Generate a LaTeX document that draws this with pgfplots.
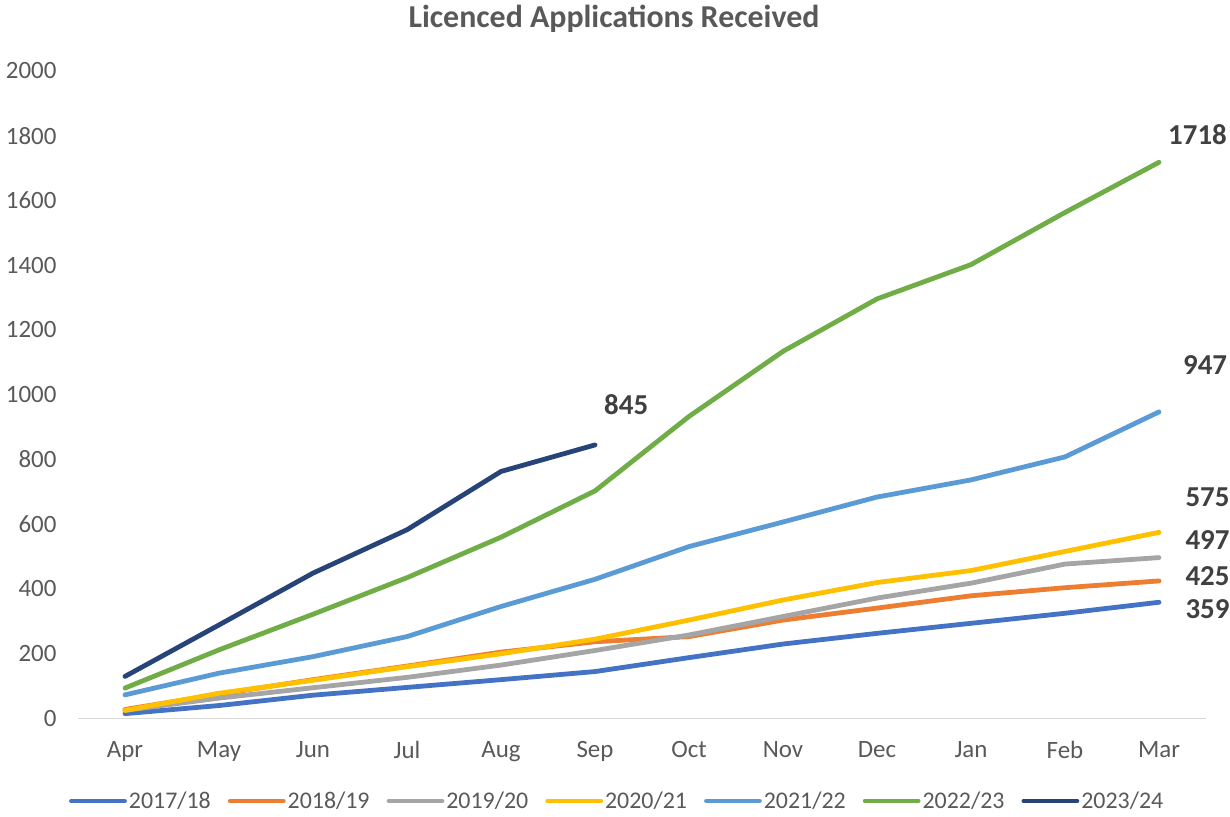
\documentclass[border=0pt]{standalone}
\usepackage{pgfplots}
\pgfplotsset{compat=1.18}
\usepackage{fontspec}
\setmainfont{Carlito}
\definecolor{cA}{HTML}{4472C4}
\definecolor{cB}{HTML}{ED7D31}
\definecolor{cC}{HTML}{A5A5A5}
\definecolor{cD}{HTML}{FFC000}
\definecolor{cE}{HTML}{5B9BD5}
\definecolor{cF}{HTML}{70AD47}
\definecolor{cG}{HTML}{264478}
\definecolor{txt}{HTML}{595959}
\definecolor{lbl}{HTML}{404040}
\definecolor{axl}{HTML}{D9D9D9}
\begin{document}
\begin{tikzpicture}
\begin{axis}[
  scale only axis, width=1128bp, height=647.5bp,
  xmin=-0.5, xmax=11.5, ymin=0, ymax=2000,
  xtick={0,...,11},
  xticklabels={Apr,May,Jun,Jul,Aug,Sep,Oct,Nov,Dec,Jan,Feb,Mar},
  ytick={0,200,...,2000},
  /pgf/number format/1000 sep={},
  axis x line*=bottom, axis y line*=left,
  y axis line style={draw=none},
  x axis line style={draw=axl, line width=1.5bp, -},
  major tick length=0pt,
  tick style={draw=none},
  ticklabel style={font=\fontsize{25}{28}\selectfont, text=txt},
  /pgf/number format/assume math mode=true,
  yticklabel style={xshift=-18bp},
  xticklabel style={yshift=-19bp},
  title={Licenced Applications Received},
  title style={font=\bfseries\fontsize{32}{36}\selectfont, text=txt, anchor=center, at={(0.5,1)}, yshift=46bp, xshift=-28bp},
  legend columns=7,
  legend style={at={(0.478,-0.1274)}, anchor=center, draw=none, fill=none,
    font=\fontsize{24}{27}\selectfont, text=txt,
    /tikz/every even column/.append style={column sep=15bp}},
  legend image code/.code={\draw[#1] (0bp,0bp) -- (53bp,0bp);},
  every axis plot/.append style={line width=4.8bp, line cap=round, line join=round, mark=none},
  clip=false,
]
\addplot[cA] coordinates {(0,15)(1,40)(2,72)(3,96)(4,120)(5,145)(6,188)(7,230)(8,263)(9,294)(10,325)(11,359)};
\addlegendentry{2017/18}
\addplot[cB] coordinates {(0,28)(1,75)(2,120)(3,162)(4,205)(5,237)(6,253)(7,304)(8,341)(9,379)(10,404)(11,425)};
\addlegendentry{2018/19}
\addplot[cC] coordinates {(0,25)(1,63)(2,95)(3,127)(4,165)(5,210)(6,258)(7,315)(8,372)(9,418)(10,477)(11,497)};
\addlegendentry{2019/20}
\addplot[cD] coordinates {(0,25)(1,78)(2,118)(3,160)(4,200)(5,245)(6,304)(7,366)(8,420)(9,457)(10,516)(11,575)};
\addlegendentry{2020/21}
\addplot[cE] coordinates {(0,73)(1,140)(2,191)(3,253)(4,346)(5,430)(6,531)(7,607)(8,684)(9,737)(10,808)(11,947)};
\addlegendentry{2021/22}
\addplot[cF] coordinates {(0,94)(1,212)(2,322)(3,435)(4,560)(5,703)(6,933)(7,1134)(8,1296)(9,1402)(10,1563)(11,1718)};
\addlegendentry{2022/23}
\addplot[cG] coordinates {(0,130)(1,289)(2,449)(3,583)(4,763)(5,845)};
\addlegendentry{2023/24}
\begin{scope}[every node/.style={anchor=west, inner sep=0pt, text=lbl, font=\bfseries\fontsize{29}{32}\selectfont}]
\node at (axis cs:11.096,1804) {1718};
\node at (axis cs:11.255,1093) {947};
\node at (axis cs:11.28,682) {575};
\node at (axis cs:11.28,552) {497};
\node at (axis cs:11.28,441) {425};
\node at (axis cs:11.28,339) {359};
\node at (axis cs:5.096,969) {845};
\end{scope}
\coordinate (O) at (rel axis cs:0,0);
\end{axis}
\pgfresetboundingbox
\path (O) ++(-78bp,-98.5bp) rectangle ++(1230bp,817bp);
\end{tikzpicture}
\end{document}
